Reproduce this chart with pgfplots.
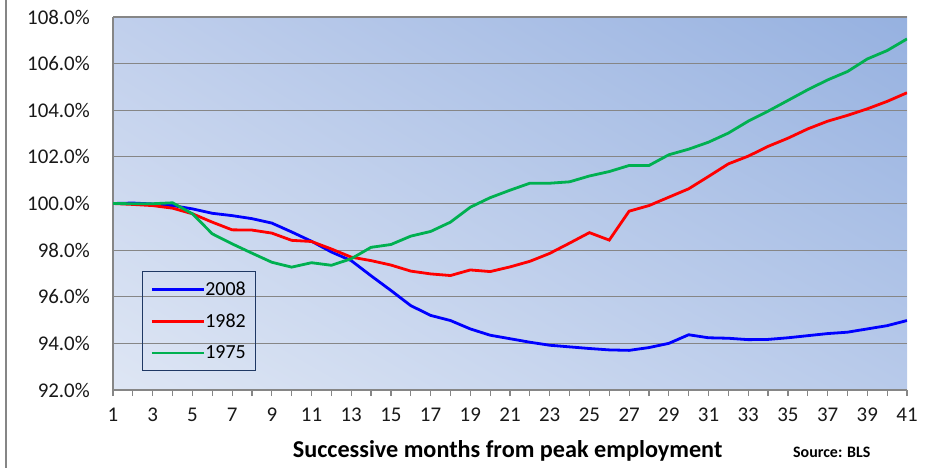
\documentclass[border=0pt]{standalone}
\usepackage{fontspec}
\setmainfont{Carlito}
\usepackage{pgfplots}
\pgfplotsset{compat=1.18}
\usepackage{pgfplotstable}
\usetikzlibrary{shadings}
\definecolor{s2008}{RGB}{0,0,255}
\definecolor{s1982}{RGB}{255,0,0}
\definecolor{s1975}{RGB}{0,176,80}
\definecolor{gridc}{RGB}{134,134,134}
\definecolor{legc}{RGB}{31,56,100}
\definecolor{bgLL}{RGB}{222,230,244}
\definecolor{bgUL}{RGB}{192,207,236}
\definecolor{bgLR}{RGB}{184,202,234}
\definecolor{bgUR}{RGB}{150,177,224}

\pgfplotstableread{
m  a      b      c
1  100.00 100.00 100.00
2  100.02 99.96  99.99
3  99.98  99.91  99.99
4  99.91  99.80  100.03
5  99.77  99.56  99.56
6  99.58  99.20  98.70
7  99.48  98.87  98.27
8  99.35  98.86  97.87
9  99.16  98.73  97.48
10 98.78  98.42  97.27
11 98.38  98.37  97.46
12 97.92  98.05  97.35
13 97.55  97.70  97.63
14 96.90  97.55  98.12
15 96.27  97.36  98.24
16 95.62  97.10  98.60
17 95.20  96.98  98.80
18 94.98  96.91  99.20
19 94.62  97.15  99.84
20 94.35  97.08  100.25
21 94.20  97.28  100.57
22 94.05  97.52  100.87
23 93.92  97.86  100.87
24 93.85  98.30  100.93
25 93.78  98.75  101.18
26 93.72  98.43  101.37
27 93.70  99.67  101.63
28 93.82  99.91  101.63
29 94.00  100.27 102.09
30 94.37  100.63 102.33
31 94.24  101.16 102.63
32 94.22  101.70 103.02
33 94.16  102.03 103.53
34 94.17  102.45 103.96
35 94.24  102.80 104.42
36 94.33  103.20 104.88
37 94.42  103.53 105.30
38 94.48  103.78 105.66
39 94.62  104.06 106.20
40 94.76  104.38 106.56
41 94.98  104.75 107.06
}\data

\begin{document}
\begin{tikzpicture}
\path[use as bounding box] (0bp,0bp) rectangle (938bp,468bp);
\draw[gridc, line width=1.2bp] (6bp,0bp) -- (6bp,468bp);
\begin{axis}[
  at={(113bp,78bp)}, anchor=south west,
  width=794bp, height=373bp, scale only axis,
  xmin=1, xmax=41, ymin=92, ymax=108,
  axis background/.style={shade, upper left=bgUL, upper right=bgUR, lower left=bgLL, lower right=bgLR},
  axis x line*=bottom, axis y line*=left,
  axis line style={gridc, line width=1.2bp},
  ymajorgrids, grid style={gridc, line width=1.2bp},
  xtick={1,3,...,41}, minor xtick={2,4,...,40},
  tick style={gridc, line width=1.2bp},
  major tick length=6bp, minor tick length=6bp, tick align=outside,
  ytick={92,94,...,108},
  yticklabels={92.0\%,94.0\%,96.0\%,98.0\%,100.0\%,102.0\%,104.0\%,106.0\%,108.0\%},
  ytick style={draw=none},
  ticklabel style={font=\fontsize{21}{25}\selectfont, text=black!90},
  yticklabel style={inner sep=0pt, xshift=-17bp},
  xticklabel style={inner sep=0pt, yshift=-12bp},
  /pgf/number format/assume math mode=true,
  xlabel={Successive months from peak employment},
  xlabel style={at={(axis description cs:0.497,-0.18)}, anchor=base, font=\bfseries\fontsize{24.3}{28}\selectfont, inner sep=0pt},
  legend style={at={(axis description cs:0.0365,0.319)}, anchor=north west, draw=legc, line width=1.2bp, fill=none,
    font=\fontsize{20}{24}\selectfont, inner xsep=8bp, inner ysep=8bp, row sep=13bp},
  legend cell align=left,
  legend image code/.code={\path (-16bp,0bp) -- (36bp,0bp); \draw[#1] (0bp,0bp) -- (36bp,0bp);},
  no markers,
]
\addplot[s2008, line width=2.8bp] table[x=m,y=a]{\data};
\addlegendentry{\hspace*{-2bp}2008}
\addplot[s1982, line width=2.8bp] table[x=m,y=b]{\data};
\addlegendentry{\hspace*{-2bp}1982}
\addplot[s1975, line width=2.8bp] table[x=m,y=c]{\data};
\addlegendentry{\hspace*{-2bp}1975}
\end{axis}
\node[anchor=base west, font=\bfseries\fontsize{16}{19}\selectfont, inner sep=0pt] at (793bp,11bp) {Source: BLS};
\end{tikzpicture}
\end{document}
